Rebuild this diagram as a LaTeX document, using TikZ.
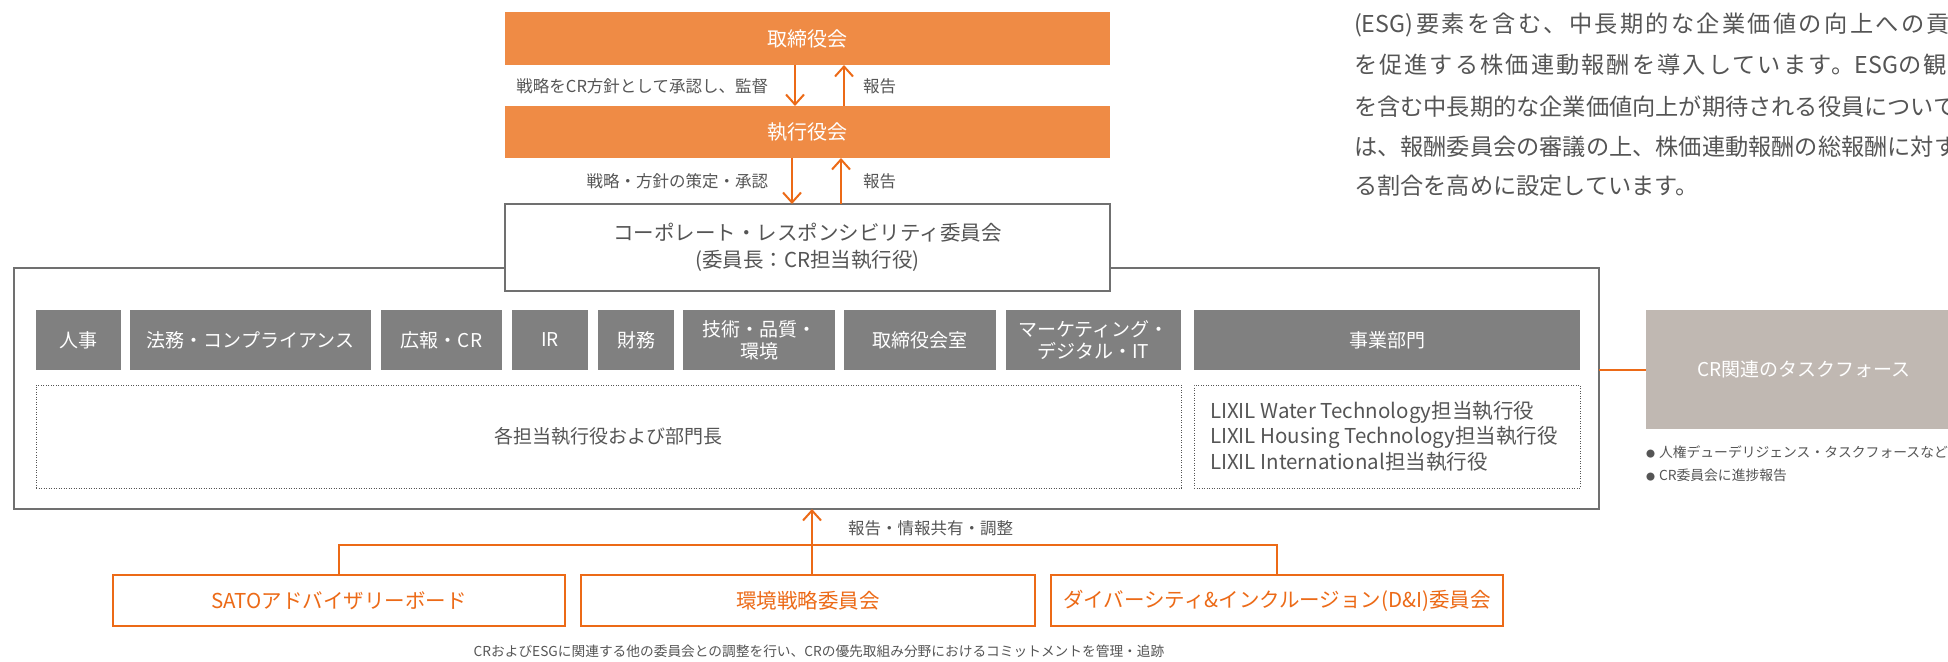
\documentclass[tikz,border=0pt]{standalone}
\usepackage{fontspec}
\newfontfamily\jp{Noto Sans CJK JP}
\usetikzlibrary{arrows.meta}
\definecolor{orfill}{HTML}{EF8B45}
\definecolor{orline}{HTML}{EC6A17}
\definecolor{grbox}{HTML}{808080}
\definecolor{txt}{HTML}{555555}
\definecolor{frame}{HTML}{707070}
\definecolor{taskfill}{HTML}{C0B8B2}
\newcommand\fsz[2]{\fontsize{#1bp}{#2bp}\selectfont}
% \bx{style}{name}{x1}{y1}{x2}{y2}{text}
\newcommand\bx[7]{\node[#1,minimum width={(#5-#3)*1bp},minimum height={(#6-#4)*1bp}] (#2) at ({(#3+#5)/2},{(#4+#6)/2}) {#7};}
\newcommand\lsp[2]{{\addfontfeature{LetterSpace=#1}#2}}
\begin{document}
\begin{tikzpicture}[x=1bp,y=-1bp,font=\jp,
  every node/.style={inner sep=0pt,outer sep=0pt},
  obox/.style={fill=orfill,draw=none,text=white,font=\jp\fsz{20}{24}},
  gbox/.style={fill=grbox,draw=none,text=white,align=center,font=\jp\fsz{19}{22}},
  dbox/.style={draw=txt,line width=1bp,dash pattern=on 1bp off 1.5bp},
  wbox/.style={draw=frame,fill=white,line width=1.5bp,text=txt,align=center,font=\jp\fsz{20.5}{27}},
  bbox/.style={draw=orline,fill=white,line width=2bp,text=orline,font=\jp\fsz{20.5}{24}},
  lab/.style={text=txt,font=\jp\fsz{16.5}{20}},
  oarrow/.style={draw=orline,line width=2bp,-{Straight Barb[length=10bp,width=18bp]}},
  oline/.style={draw=orline,line width=2bp},
  para/.style={anchor=west,text=txt,font=\jp\fsz{23.2}{27}}]
\useasboundingbox (0,0) rectangle (1948,662);

% outer frame
\bx{draw=frame,line width=1.5bp}{outer}{14}{268}{1599}{509}{}

% top boxes
\bx{obox}{board}{505}{12}{1110}{65}{取締役会}
\bx{obox}{exec}{505}{106}{1110}{158}{執行役会}
\bx{wbox}{cr}{505}{204}{1110}{291}{コーポレート・レスポンシビリティ委員会\\(委員長：CR担当執行役)}

\coordinate (xa) at (795,0);
\coordinate (xb) at (844,0);
\coordinate (xc) at (792,0);
\coordinate (xd) at (841,0);
\draw[oarrow] (xa |- board.south) -- (xa |- exec.north);
\draw[oarrow] (xb |- exec.north) -- (xb |- board.south);
\draw[oarrow] (xc |- exec.south) -- (xc |- cr.north);
\draw[oarrow] (xd |- cr.north) -- (xd |- exec.south);
\node[lab,anchor=east] (l1) at (768,86) {戦略をCR方針として承認し、監督};
\node[lab,anchor=west] (r1) at (863,86) {報告};
\node[lab,anchor=east] (l2) at (768,181) {戦略・方針の策定・承認};
\node[lab,anchor=west] (r2) at (863,181) {報告};

% gray boxes
\bx{gbox}{g1}{36}{310}{121}{370}{人事}
\bx{gbox}{g2}{130}{310}{371}{370}{法務・コンプライアンス}
\bx{gbox}{g3}{381}{310}{502}{370}{広報・CR}
\bx{gbox}{g4}{512}{310}{588}{370}{IR}
\bx{gbox}{g5}{598}{310}{674}{370}{財務}
\bx{gbox}{g6}{683}{310}{835}{370}{技術・品質・\\環境}
\bx{gbox}{g7}{844}{310}{996}{370}{取締役会室}
\bx{gbox}{g8}{1006}{310}{1181}{370}{マーケティング・\\デジタル・IT}
\bx{gbox}{g9}{1194}{310}{1580}{370}{事業部門}

% dotted boxes
\bx{dbox,text=txt,font=\jp\fsz{19}{24}}{d1}{36}{385}{1181}{488}{各担当執行役および部門長}
\bx{dbox}{d2}{1194}{385}{1580}{488}{}
\node[anchor=west,text=txt,align=left,font=\jp\fsz{20.5}{25.5}] (lixil) at (1210,436)
  {LIXIL Water Technology担当執行役\\LIXIL Housing Technology担当執行役\\LIXIL International担当執行役};

% task force
\bx{fill=taskfill,text=white,font=\jp\fsz{19}{23}}{task}{1646}{310}{1962}{429}{CR関連のタスクフォース}
\draw[oline] (task.west -| outer.east) -- (task.west);
\node[anchor=west,text=txt,align=left,font=\jp\fsz{13.8}{23}] (bul) at (1646,464)
  {{\fsz{9}{9}●}\hspace{4bp}人権デューデリジェンス・タスクフォースなど\\{\fsz{9}{9}●}\hspace{4bp}CR委員会に進捗報告};

% bottom committees
\bx{bbox}{sato}{113}{575}{565}{626}{SATOアドバイザリーボード}
\bx{bbox}{env}{581}{575}{1035}{626}{環境戦略委員会}
\bx{bbox}{di}{1051}{575}{1503}{626}{ダイバーシティ\&インクルージョン(D\&I)委員会}
\coordinate (hl) at (0,545);
\draw[oline] (sato.north) -- (sato.north |- hl) -- (di.north |- hl) -- (di.north);
\draw[oarrow] ([xshift=4bp]env.north) -- ([xshift=4bp]env.north |- outer.south);
\node[lab,anchor=west] (rep) at (848,528) {報告・情報共有・調整};
\node[text=txt,font=\jp\fsz{13.7}{18}] (cap) at (819,651) {CRおよびESGに関連する他の委員会との調整を行い、CRの優先取組み分野におけるコミットメントを管理・追跡};

% right paragraph
\node[para] (p1) at (1354,25) {(ESG)\hspace{3bp}\lsp{10}{要素を含む、中長期的な企業価値の向上への貢献}};
\node[para] (p2) at (1354,65) {\lsp{9}{を促進する株価連動報酬を導入しています。}ESG\lsp{9}{の観点}};
\node[para] (p3) at (1354,107) {を含む中長期的な企業価値向上が期待される役員について};
\node[para] (p4) at (1354,147) {は、報酬委員会の審議の上、株価連動報酬の総報酬に対す};
\node[para] (p5) at (1354,186) {る割合を高めに設定しています。};
\end{tikzpicture}
\end{document}
